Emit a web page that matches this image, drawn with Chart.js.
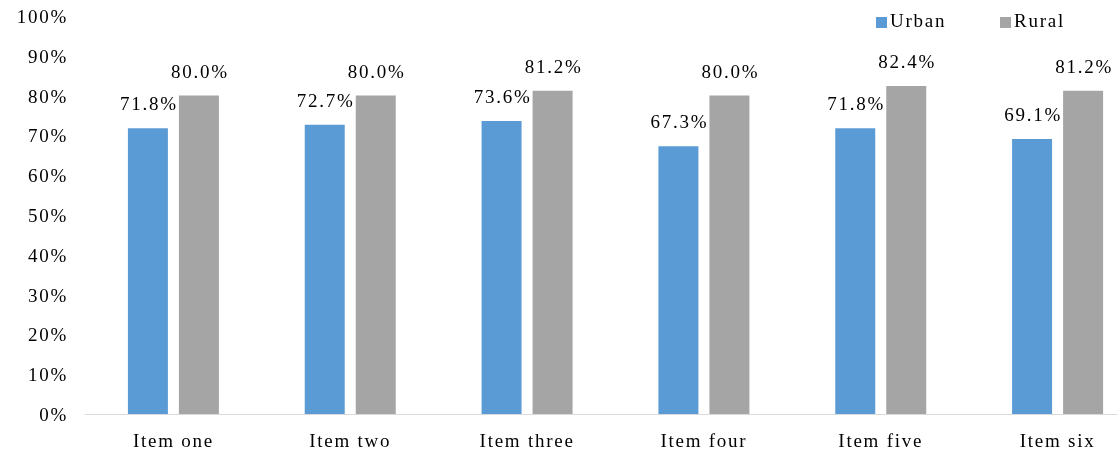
<!DOCTYPE html>
<html>
<head>
<meta charset="utf-8">
<script src="https://cdn.jsdelivr.net/npm/chart.js@4"></script>
<style>
  html, body { margin: 0; padding: 0; background: #fff; overflow: hidden; }
  #wrap { width: 1117px; height: 455px; overflow: hidden; }
</style>
</head>
<body>
<div id="wrap"><canvas id="chart" width="1150" height="455"></canvas></div>
<script>
const categories = ['Item one', 'Item two', 'Item three', 'Item four', 'Item five', 'Item six'];
const urban = [71.8, 72.7, 73.6, 67.3, 71.8, 69.1];
const rural = [80.0, 80.0, 81.2, 80.0, 82.4, 81.2];

const FONT = 'Liberation Serif';
const SPACING = '1.75px';
const INK = '#000';

const spacingPlugin = {
    id: 'spacing',
    beforeUpdate: (chart) => { chart.ctx.letterSpacing = SPACING; },
    beforeDraw: (chart) => { chart.ctx.letterSpacing = SPACING; }
};

const valueLabels = {
    id: 'valueLabels',
    afterDatasetsDraw: (chart) => {
        const ctx = chart.ctx;
        ctx.save();
        ctx.letterSpacing = SPACING;
        ctx.font = '19px ' + FONT;
        ctx.fillStyle = INK;
        ctx.textAlign = 'center';
        ctx.textBaseline = 'middle';
        chart.data.datasets.forEach((ds, i) => {
            chart.getDatasetMeta(i).data.forEach((bar, j) => {
                ctx.fillText(ds.data[j].toFixed(1) + '%', bar.x + 1, bar.y - 23);
            });
        });
        ctx.restore();
    }
};

const floatLegend = {
    id: 'floatLegend',
    afterDraw: (chart) => {
        const ctx = chart.ctx;
        const starts = [876, 1000];
        ctx.save();
        ctx.letterSpacing = SPACING;
        ctx.font = '19px ' + FONT;
        ctx.textAlign = 'left';
        ctx.textBaseline = 'middle';
        chart.data.datasets.forEach((ds, i) => {
            ctx.fillStyle = ds.backgroundColor;
            ctx.fillRect(starts[i], 17, 11, 11);
            ctx.fillStyle = INK;
            ctx.fillText(ds.label, starts[i] + 14, 22);
        });
        ctx.restore();
    }
};

new Chart(document.getElementById('chart').getContext('2d'), {
    type: 'bar',
    data: {
        labels: categories,
        datasets: [
            { label: 'Urban', data: urban, backgroundColor: '#5B9BD5' },
            { label: 'Rural', data: rural, backgroundColor: '#A5A5A5' }
        ]
    },
    options: {
        responsive: false,
        animation: false,
        devicePixelRatio: 1,
        layout: { padding: { top: 16, right: 4, bottom: 0, left: 0 } },
        datasets: {
            bar: { categoryPercentage: 0.577, barPercentage: 0.784 }
        },
        plugins: {
            legend: { display: false },
            tooltip: { enabled: false }
        },
        scales: {
            x: {
                grid: { display: false, drawTicks: false },
                border: { display: true, color: '#D9D9D9', width: 1 },
                ticks: { color: INK, font: { family: FONT, size: 19 }, padding: 17, maxRotation: 0 },
                afterFit: (scale) => { scale.height = 41; }
            },
            y: {
                min: 0,
                max: 100,
                grid: { display: false, drawTicks: false },
                border: { display: false },
                ticks: {
                    stepSize: 10,
                    color: INK,
                    font: { family: FONT, size: 19 },
                    padding: 17,
                    labelOffset: 2,
                    callback: (v) => v + '%'
                },
                afterFit: (scale) => {
                    scale.width = 85;
                    scale.paddingTop = 0;
                    scale.paddingBottom = 0;
                }
            }
        }
    },
    plugins: [spacingPlugin, valueLabels, floatLegend]
});
</script>
</body>
</html>
